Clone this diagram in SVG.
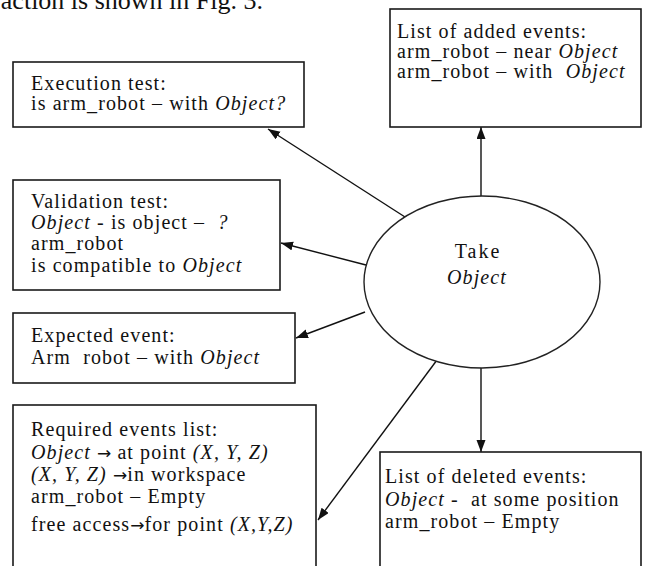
<svg xmlns="http://www.w3.org/2000/svg" width="647" height="566" viewBox="0 0 647 566">
<defs>
<style>
.box{fill:#fff;stroke:#1a1a1a;stroke-width:1.6}
.t{font-family:"Liberation Serif","Times New Roman",serif;font-size:20px;letter-spacing:1.1px;fill:#111}
.i{font-style:italic}
.a{font-family:"DejaVu Sans",sans-serif;font-size:17px;letter-spacing:0}
.c{stroke:#111;stroke-width:1.4;fill:none}
</style>
<marker id="ah" markerUnits="userSpaceOnUse" markerWidth="13" markerHeight="10" refX="12" refY="4.5" orient="auto">
<path d="M0,0 L12,4.5 L0,9 z" fill="#111"/>
</marker>
</defs>
<rect width="647" height="566" fill="#fff"/>
<text x="263" y="9" text-anchor="end" style="font-family:'Liberation Serif','Times New Roman',serif;font-size:26px;fill:#111">action is shown in Fig. 3.</text>

<g id="connectors">
<line class="c" x1="405" y1="217" x2="268" y2="129" marker-end="url(#ah)"/>
<line class="c" x1="366" y1="265" x2="281" y2="243" marker-end="url(#ah)"/>
<line class="c" x1="365" y1="312" x2="296" y2="338" marker-end="url(#ah)"/>
<line class="c" x1="437" y1="360" x2="318" y2="520" marker-end="url(#ah)"/>
<line class="c" x1="481" y1="368" x2="481" y2="452" marker-end="url(#ah)"/>
<line class="c" x1="481" y1="196" x2="481" y2="127" marker-end="url(#ah)"/>
</g>

<g id="take">
<ellipse cx="482" cy="282" rx="118" ry="86" fill="#fff" stroke="#222" stroke-width="1.4"/>
<text class="t" x="478" y="258" text-anchor="middle" style="letter-spacing:2px">Take</text>
<text class="t i" x="477" y="284" text-anchor="middle">Object</text>
</g>

<g id="execution-test">
<rect class="box" x="13" y="62" width="291" height="65"/>
<text class="t" x="31" y="90">Execution test:</text>
<text class="t" x="31" y="110">is arm_robot – with <tspan class="i">Object?</tspan></text>
</g>

<g id="added-events">
<rect class="box" x="390" y="9" width="251" height="118"/>
<text class="t" x="397" y="38">List of added events:</text>
<text class="t" x="397" y="58">arm_robot – near <tspan class="i">Object</tspan></text>
<text class="t" x="397" y="78" xml:space="preserve">arm_robot – with  <tspan class="i">Object</tspan></text>
</g>

<g id="validation-test">
<rect class="box" x="13" y="180" width="267" height="110"/>
<text class="t" x="31" y="208">Validation test:</text>
<text class="t" x="31" y="229" xml:space="preserve"><tspan class="i">Object</tspan> - is object –  <tspan class="i">?</tspan></text>
<text class="t" x="31" y="250">arm_robot</text>
<text class="t" x="31" y="272">is compatible to <tspan class="i">Object</tspan></text>
</g>

<g id="expected-event">
<rect class="box" x="13" y="313" width="282" height="70"/>
<text class="t" x="31" y="342">Expected event:</text>
<text class="t" x="31" y="364" xml:space="preserve">Arm  robot – with <tspan class="i">Object</tspan></text>
</g>

<g id="required-events">
<rect class="box" x="13" y="405" width="303" height="175"/>
<text class="t" x="31" y="436">Required events list:</text>
<text class="t" x="31" y="459"><tspan class="i">Object</tspan> <tspan class="a">→</tspan> at point <tspan class="i">(X, Y, Z)</tspan></text>
<text class="t" x="31" y="481"><tspan class="i">(X, Y, Z)</tspan> <tspan class="a">→</tspan>in workspace</text>
<text class="t" x="31" y="503">arm_robot – Empty</text>
<text class="t" x="31" y="531">free access<tspan class="a">→</tspan>for point <tspan class="i">(X,Y,Z)</tspan></text>
</g>

<g id="deleted-events">
<rect class="box" x="380" y="452" width="261" height="130"/>
<text class="t" x="385" y="483">List of deleted events:</text>
<text class="t" x="385" y="506" xml:space="preserve"><tspan class="i">Object</tspan> -  at some position</text>
<text class="t" x="385" y="528">arm_robot – Empty</text>
</g>
</svg>
